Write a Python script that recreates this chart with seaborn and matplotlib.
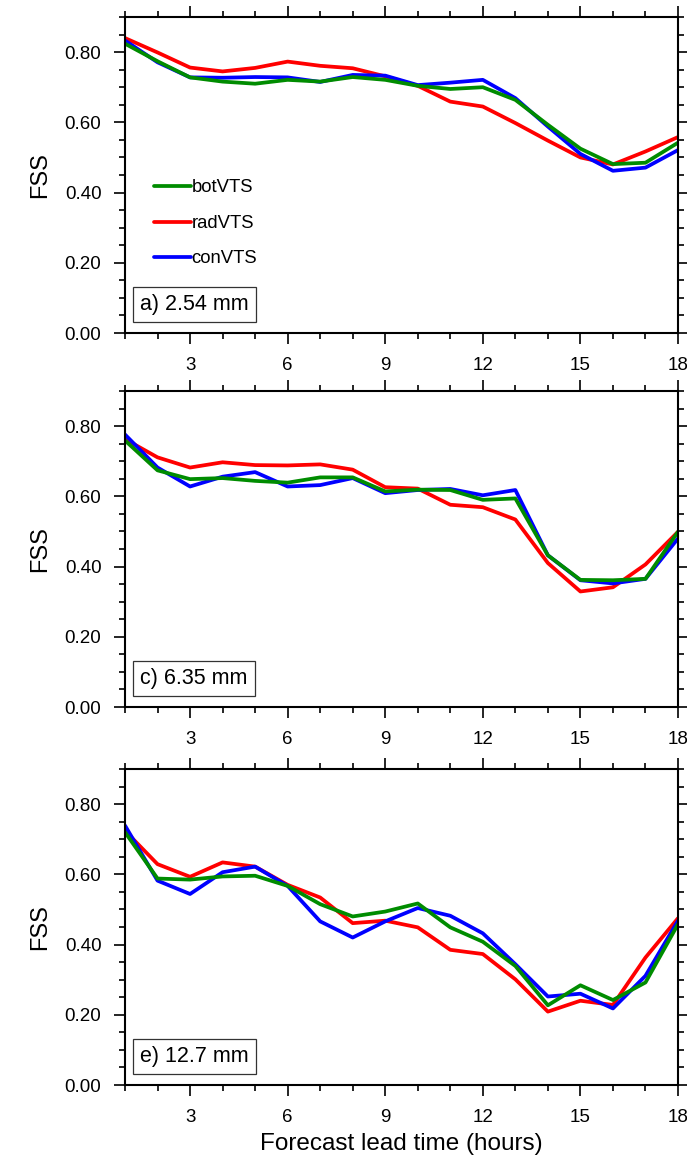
import numpy as np
import pandas as pd
import matplotlib
matplotlib.use("Agg")
import matplotlib.pyplot as plt
import seaborn as sns

# ---------------- data ----------------
lead_hours = list(range(1, 19))
series_names = ["botVTS", "radVTS", "conVTS"]
panel_titles = ["a) 2.54 mm", "c) 6.35 mm", "e) 12.7 mm"]

# panel a) 2.54 mm
bot_a = [0.824, 0.774, 0.728, 0.716, 0.710, 0.721, 0.716, 0.729, 0.721, 0.704,
         0.695, 0.700, 0.664, 0.593, 0.525, 0.481, 0.485, 0.542]
rad_a = [0.840, 0.799, 0.756, 0.745, 0.755, 0.773, 0.761, 0.754, 0.731, 0.704,
         0.659, 0.645, 0.598, 0.548, 0.500, 0.480, 0.517, 0.558]
con_a = [0.833, 0.771, 0.728, 0.727, 0.729, 0.728, 0.715, 0.735, 0.733, 0.706,
         0.713, 0.721, 0.669, 0.588, 0.510, 0.462, 0.471, 0.521]

# panel c) 6.35 mm
bot_c = [0.759, 0.674, 0.649, 0.652, 0.644, 0.639, 0.654, 0.654, 0.614, 0.619,
         0.618, 0.590, 0.594, 0.432, 0.362, 0.361, 0.365, 0.499]
rad_c = [0.763, 0.711, 0.682, 0.697, 0.689, 0.688, 0.691, 0.676, 0.626, 0.622,
         0.576, 0.569, 0.534, 0.410, 0.329, 0.341, 0.406, 0.499]
con_c = [0.776, 0.682, 0.628, 0.656, 0.669, 0.628, 0.632, 0.652, 0.609, 0.618,
         0.621, 0.603, 0.618, 0.432, 0.361, 0.352, 0.365, 0.480]

# panel e) 12.7 mm
bot_e = [0.720, 0.588, 0.585, 0.594, 0.596, 0.567, 0.515, 0.480, 0.494, 0.517,
         0.449, 0.408, 0.339, 0.227, 0.284, 0.242, 0.292, 0.458]
rad_e = [0.724, 0.629, 0.593, 0.634, 0.622, 0.570, 0.534, 0.461, 0.468, 0.449,
         0.385, 0.373, 0.301, 0.209, 0.240, 0.228, 0.363, 0.475]
con_e = [0.739, 0.582, 0.544, 0.606, 0.622, 0.567, 0.466, 0.420, 0.466, 0.504,
         0.482, 0.432, 0.344, 0.252, 0.260, 0.218, 0.311, 0.468]

x_tick_labels = ["3", "6", "9", "12", "15", "18"]
y_tick_labels = ["0.00", "0.20", "0.40", "0.60", "0.80"]

panels = [
    {"botVTS": bot_a, "radVTS": rad_a, "conVTS": con_a},
    {"botVTS": bot_c, "radVTS": rad_c, "conVTS": con_c},
    {"botVTS": bot_e, "radVTS": rad_e, "conVTS": con_e},
]

colors = {"botVTS": "#008c00", "radVTS": "#ff0000", "conVTS": "#0000ff"}
draw_order = ["radVTS", "conVTS", "botVTS"]

# ---------------- style ----------------
sns.set_theme(style="ticks")
plt.rcParams["font.family"] = ["Liberation Sans", "DejaVu Sans"]
plt.rcParams["text.color"] = "black"
plt.rcParams["axes.labelcolor"] = "black"
plt.rcParams["xtick.labelcolor"] = "black"
plt.rcParams["ytick.labelcolor"] = "black"

W, H = 687, 1158
fig = plt.figure(figsize=(W / 100, H / 100), dpi=100)

left_px, right_px = 125, 678
tops_px = [17, 391, 769]
bots_px = [333, 707, 1085]

for i, (data, title) in enumerate(zip(panels, panel_titles)):
    ax = fig.add_axes([left_px / W, 1 - bots_px[i] / H,
                       (right_px - left_px) / W, (bots_px[i] - tops_px[i]) / H])
    df = pd.DataFrame({"hour": lead_hours * 3,
                       "FSS": sum((data[n] for n in series_names), []),
                       "exp": sum(([n] * len(lead_hours) for n in series_names), [])})
    for name in draw_order:
        sub = df[df["exp"] == name]
        sns.lineplot(data=sub, x="hour", y="FSS", color=colors[name], lw=2.7,
                     ax=ax, label=name, legend=False)

    ax.set_xlim(1, 18)
    ax.set_ylim(0, 0.9)
    ax.set_xticks([3, 6, 9, 12, 15, 18])
    ax.set_xticklabels(x_tick_labels)
    ax.set_xticks(lead_hours, minor=True)
    ax.set_yticks([0, 0.2, 0.4, 0.6, 0.8])
    ax.set_yticklabels(y_tick_labels)
    ax.set_yticks(np.arange(0, 0.901, 0.05), minor=True)
    ax.tick_params(which="both", direction="out", top=True, right=True,
                   bottom=True, left=True, labeltop=False, labelright=False,
                   color="black", width=1.2)
    ax.tick_params(which="major", length=8, pad=9, labelsize=13.5)
    ax.tick_params(which="minor", length=4.5)
    for sp in ax.spines.values():
        sp.set_visible(True)
        sp.set_linewidth(1.5)
        sp.set_color("black")
    ax.set_ylabel("FSS", fontsize=17, labelpad=10)
    if i == 2:
        ax.set_xlabel("Forecast lead time (hours)", fontsize=17.5, labelpad=5)
    else:
        ax.set_xlabel("")

    ax.text(0.028, 0.058, title, transform=ax.transAxes, fontsize=15.5,
            ha="left", va="bottom",
            bbox=dict(boxstyle="square,pad=0.33", fc="white", ec="#333333", lw=0.9))

    if i == 0:
        handles, labels = ax.get_legend_handles_labels()
        hmap = dict(zip(labels, handles))
        ax.legend([hmap[n] for n in series_names], series_names,
                  loc="upper left", bbox_to_anchor=(0.035, 0.515),
                  frameon=False, fontsize=13.3, handlelength=2.0,
                  handletextpad=0.05, labelspacing=1.0, borderpad=0)

fig.savefig("out.png", dpi=100)
